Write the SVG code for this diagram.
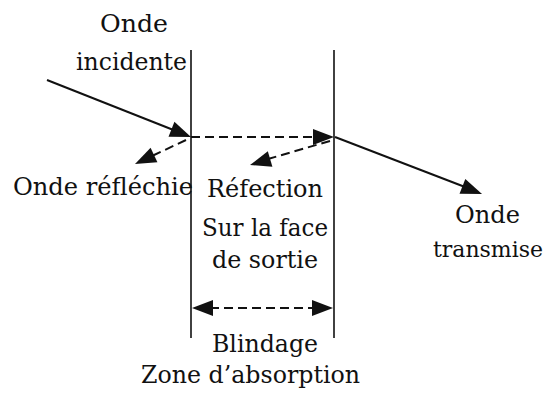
<svg xmlns="http://www.w3.org/2000/svg" width="547" height="394" viewBox="0 0 547 394">
<style>
.s{stroke:#111;stroke-width:2;fill:none;}
.d{stroke-dasharray:9 5;}
.v{stroke:#111;stroke-width:1.6;fill:none;}
.h{fill:#111;stroke:none;}
</style>
<defs>
<path id="head" d="M0,0 L-21,-8 L-21,8 z"/>
</defs>
<rect width="547" height="394" fill="#fff"/>
<g id="walls">
<line class="v" x1="191" y1="50" x2="191" y2="338"/>
<line class="v" x1="334" y1="50" x2="334" y2="338"/>
</g>
<g id="connectors">
<line class="s" x1="47" y1="80" x2="176" y2="131"/>
<use href="#head" class="h" transform="translate(191,137) rotate(21.6)"/>
<line class="s d" x1="191" y1="137" x2="314" y2="137"/>
<use href="#head" class="h" transform="translate(334,137)"/>
<line class="s d" x1="186" y1="140" x2="152" y2="156"/>
<use href="#head" class="h" transform="translate(135,164) rotate(154.8)"/>
<line class="s d" x1="330" y1="141" x2="268" y2="159"/>
<use href="#head" class="h" transform="translate(250,165) rotate(163.3)"/>
<line class="s" x1="335" y1="137" x2="465" y2="187"/>
<use href="#head" class="h" transform="translate(482,194) rotate(21.2)"/>
<line class="s d" x1="210" y1="308" x2="315" y2="308"/>
<use href="#head" class="h" transform="translate(192,308) rotate(180)"/>
<use href="#head" class="h" transform="translate(333,308)"/>
</g>
<g font-family="DejaVu Serif, Liberation Serif, serif" font-size="25" fill="#111">
<g id="incident">
<text x="100" y="32" textLength="68" lengthAdjust="spacingAndGlyphs">Onde</text>
<text x="76" y="70" textLength="111" lengthAdjust="spacingAndGlyphs">incidente</text>
</g>
<g id="reflected">
<text x="13" y="195" textLength="180" lengthAdjust="spacingAndGlyphs">Onde réfléchie</text>
</g>
<g id="reflection-exit">
<text x="207" y="197" textLength="116" lengthAdjust="spacingAndGlyphs">Réfection</text>
<text x="202" y="236" textLength="126" lengthAdjust="spacingAndGlyphs">Sur la face</text>
<text x="212" y="268" textLength="106" lengthAdjust="spacingAndGlyphs">de sortie</text>
</g>
<g id="transmitted">
<text x="455" y="223" textLength="65" lengthAdjust="spacingAndGlyphs">Onde</text>
<text x="433" y="257" font-size="22" textLength="110" lengthAdjust="spacingAndGlyphs">transmise</text>
</g>
<g id="shield">
<text x="212" y="352" textLength="106" lengthAdjust="spacingAndGlyphs">Blindage</text>
<text x="141" y="383" textLength="219" lengthAdjust="spacingAndGlyphs">Zone d’absorption</text>
</g>
</g>
</svg>
